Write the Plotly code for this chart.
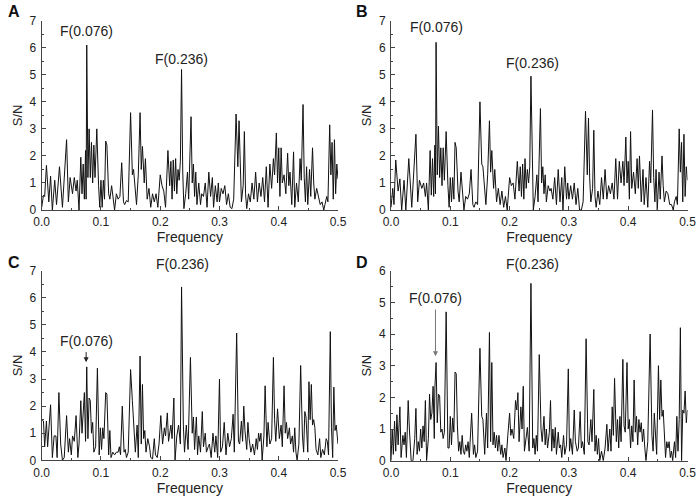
import plotly.graph_objects as go

# ---------------- data ----------------
freq_a = [0.000,0.003,0.005,0.008,0.012,0.015,0.018,0.022,0.025,0.030,0.035,0.042,0.045,0.048,0.052,0.055,0.058,0.060,0.063,0.066,
          0.068,0.070,0.072,0.074,0.075,0.076,0.078,0.080,0.082,0.084,0.086,0.088,0.090,0.093,0.096,0.098,0.100,0.102,0.104,0.106,
          0.108,0.110,0.113,0.115,0.118,0.121,0.123,0.126,0.129,0.132,0.135,0.138,0.140,0.143,0.146,0.150,0.153,0.155,0.158,0.160,
          0.163,0.166,0.168,0.170,0.173,0.175,0.178,0.181,0.184,0.187,0.190,0.193,0.196,0.200,0.203,0.206,0.209,0.213,0.216,0.218,
          0.220,0.222,0.224,0.226,0.228,0.230,0.232,0.234,0.236,0.238,0.240,0.243,0.246,0.248,0.252,0.254,0.256,0.258,0.260,0.262,
          0.265,0.268,0.270,0.273,0.276,0.279,0.282,0.285,0.288,0.290,0.293,0.296,0.298,0.300,0.303,0.306,0.309,0.312,0.315,0.318,
          0.321,0.324,0.328,0.331,0.333,0.335,0.337,0.340,0.342,0.344,0.346,0.349,0.352,0.355,0.358,0.361,0.364,0.367,0.370,0.373,
          0.376,0.379,0.382,0.385,0.388,0.391,0.393,0.396,0.398,0.400,0.402,0.404,0.406,0.409,0.412,0.415,0.417,0.419,0.422,0.425,
          0.427,0.430,0.433,0.436,0.438,0.441,0.443,0.445,0.447,0.449,0.452,0.454,0.457,0.459,0.461,0.464,0.467,0.470,0.473,0.476,
          0.478,0.481,0.483,0.486,0.488,0.490,0.492,0.494,0.496,0.498,0.500]
sn_a = [0.10,0.55,0.50,1.65,0.30,1.25,0.00,1.10,0.20,1.60,0.10,2.60,0.30,1.20,0.60,1.20,0.70,1.10,0.00,1.95,
        0.60,1.70,0.40,2.20,0.40,6.10,1.20,3.00,1.20,2.50,1.00,2.40,1.20,3.00,0.90,0.10,1.10,0.10,1.10,0.40,
        2.55,2.40,0.60,0.40,0.90,0.30,0.00,0.60,0.40,0.50,1.75,0.30,0.20,0.35,0.30,3.60,1.30,1.50,0.60,0.20,
        1.30,3.60,1.50,2.35,1.00,1.90,0.40,0.80,0.10,0.60,0.30,0.60,0.10,1.30,0.90,0.70,0.10,2.20,0.90,1.80,
        0.40,1.85,0.70,1.90,0.60,1.50,1.10,1.80,5.20,1.40,0.05,0.60,1.40,0.40,3.45,1.00,1.70,0.50,1.40,0.20,
        1.00,0.20,0.60,0.50,1.00,0.10,1.40,0.50,1.20,0.10,0.90,0.30,1.00,0.30,0.80,0.60,0.90,0.20,0.60,0.10,
        0.05,0.40,3.55,1.60,3.30,1.50,0.30,0.90,2.90,0.60,0.05,0.60,0.30,1.00,0.40,1.40,0.30,1.00,0.50,1.20,
        0.30,1.60,0.10,1.70,0.80,1.90,1.30,2.85,1.00,2.30,0.50,2.30,1.00,1.30,0.60,2.10,0.90,1.40,0.20,2.15,
        0.10,1.00,0.30,1.90,1.10,3.90,1.20,0.30,1.60,0.20,1.50,0.50,2.30,1.00,0.40,0.80,0.50,0.20,0.30,0.00,
        0.20,0.50,0.30,3.15,1.30,2.50,0.40,2.60,0.60,1.70,1.15]

freq_b = freq_a
sn_b = [0.10,0.80,0.20,1.85,0.70,1.15,0.00,1.10,0.00,1.90,0.10,2.80,0.30,1.10,0.80,1.00,0.50,1.00,0.00,2.20,
        0.55,1.90,0.50,2.40,0.60,6.20,1.30,3.10,1.20,2.30,0.90,2.30,1.10,2.90,0.90,0.10,1.20,0.30,1.20,0.40,
        2.50,2.30,0.70,0.30,1.40,0.40,0.00,0.50,0.40,0.60,1.50,0.20,0.10,0.30,0.20,4.00,1.70,1.60,0.70,0.20,
        1.30,3.30,1.40,2.20,0.80,1.50,0.30,0.80,0.20,0.70,0.10,0.50,0.00,1.20,0.90,1.00,0.40,1.80,0.70,1.60,
        0.50,1.70,0.40,1.90,0.80,1.50,1.00,1.60,4.95,1.50,0.00,0.50,1.30,0.30,3.75,1.00,1.60,0.60,1.30,0.30,
        0.90,0.70,0.80,0.40,1.20,0.20,1.50,0.30,1.20,0.00,1.60,0.40,1.00,0.40,0.90,0.40,1.00,0.20,0.80,0.00,
        0.00,0.30,3.65,1.30,3.40,1.20,0.30,0.80,2.95,0.50,0.10,0.70,0.20,1.20,0.40,1.50,0.40,0.90,0.60,1.00,
        0.40,1.90,0.40,1.80,1.00,1.80,0.90,2.70,1.00,1.80,0.40,2.90,0.80,1.40,0.60,1.90,0.80,2.00,0.30,1.50,
        0.20,1.20,0.10,1.80,1.00,3.70,1.20,0.30,1.50,0.00,1.40,0.40,2.00,0.90,0.30,0.70,0.60,0.20,0.20,0.00,
        0.30,0.50,0.20,3.00,1.40,2.50,0.30,2.80,0.50,1.60,1.10]

freq_c = [0.000,0.003,0.005,0.008,0.010,0.015,0.018,0.021,0.024,0.026,0.029,0.032,0.035,0.038,0.042,0.045,0.047,0.050,0.052,0.055,
          0.058,0.061,0.063,0.066,0.068,0.070,0.072,0.074,0.076,0.078,0.080,0.082,0.084,0.086,0.088,0.091,0.094,0.097,0.099,0.101,
          0.103,0.105,0.108,0.110,0.113,0.115,0.117,0.120,0.123,0.126,0.129,0.131,0.133,0.136,0.139,0.141,0.143,0.146,0.150,0.153,
          0.156,0.158,0.161,0.163,0.166,0.168,0.170,0.172,0.174,0.176,0.179,0.182,0.184,0.187,0.190,0.192,0.195,0.198,0.201,0.204,
          0.207,0.209,0.212,0.214,0.218,0.220,0.223,0.225,0.228,0.231,0.234,0.236,0.239,0.241,0.244,0.247,0.251,0.254,0.256,0.258,
          0.261,0.263,0.265,0.268,0.271,0.273,0.276,0.278,0.281,0.283,0.286,0.289,0.292,0.294,0.297,0.300,0.302,0.305,0.308,0.311,
          0.314,0.317,0.320,0.323,0.325,0.329,0.332,0.334,0.337,0.339,0.341,0.343,0.346,0.348,0.350,0.353,0.356,0.359,0.362,0.364,
          0.366,0.368,0.370,0.372,0.375,0.377,0.380,0.382,0.385,0.388,0.391,0.393,0.395,0.398,0.401,0.404,0.406,0.409,0.411,0.413,
          0.415,0.418,0.420,0.423,0.425,0.427,0.429,0.431,0.434,0.437,0.440,0.442,0.444,0.446,0.449,0.451,0.453,0.455,0.457,0.459,
          0.461,0.463,0.466,0.469,0.471,0.474,0.477,0.480,0.482,0.484,0.487,0.489,0.491,0.493,0.495,0.497,0.500]
sn_c = [1.50,1.45,0.50,1.45,0.50,2.05,0.10,0.90,0.90,0.10,2.50,0.60,0.00,0.10,1.65,0.30,0.80,0.20,0.90,0.70,
        1.65,0.10,0.60,2.20,1.00,1.80,2.50,0.70,3.45,0.80,2.30,2.20,1.00,1.40,0.30,0.50,3.40,0.20,1.20,0.40,
        1.20,0.80,2.50,2.45,0.20,1.10,0.10,0.30,0.20,0.30,0.30,0.50,0.20,2.00,0.30,0.40,0.10,0.30,3.35,2.20,
        1.20,0.30,1.30,0.10,3.85,0.60,2.80,0.80,1.10,0.30,0.80,0.50,0.10,0.05,0.80,0.20,0.10,0.60,1.65,0.60,
        1.20,0.90,1.75,0.70,1.30,0.80,2.30,0.00,0.90,1.30,0.60,6.40,1.30,0.30,1.30,0.40,3.80,1.00,1.60,0.40,
        1.60,0.20,0.90,0.30,1.80,0.50,1.00,0.30,0.50,0.60,0.10,1.00,0.30,0.90,0.10,3.00,0.30,0.50,1.40,0.20,
        1.00,0.50,0.80,1.70,0.30,4.70,0.70,0.60,1.45,0.70,2.00,1.10,0.40,1.40,0.80,0.30,0.60,0.20,0.80,0.40,
        1.00,0.70,1.00,0.00,0.90,2.75,0.50,1.40,0.60,0.80,3.80,1.50,0.70,1.90,0.80,1.30,0.50,2.75,1.00,1.40,
        0.80,1.20,0.60,0.90,0.30,1.20,0.30,0.00,0.60,3.50,0.90,0.30,1.80,1.60,0.30,2.90,1.50,2.80,1.30,1.50,
        1.20,0.40,0.20,0.80,0.10,0.40,0.20,0.80,0.70,0.20,4.75,1.20,0.10,2.70,1.10,1.30,0.60]

freq_d = [0.000,0.002,0.004,0.006,0.008,0.010,0.012,0.015,0.017,0.020,0.022,0.024,0.026,0.029,0.031,0.034,0.037,0.040,0.042,0.044,
          0.046,0.048,0.050,0.052,0.054,0.056,0.058,0.060,0.063,0.065,0.067,0.069,0.071,0.073,0.074,0.076,0.078,0.080,0.082,0.084,
          0.086,0.088,0.090,0.093,0.096,0.098,0.100,0.102,0.104,0.106,0.108,0.110,0.112,0.114,0.116,0.118,0.120,0.122,0.124,0.126,
          0.128,0.130,0.132,0.134,0.136,0.139,0.141,0.143,0.146,0.150,0.153,0.155,0.158,0.161,0.163,0.166,0.168,0.170,0.172,0.174,
          0.176,0.178,0.180,0.182,0.185,0.187,0.189,0.192,0.194,0.197,0.200,0.202,0.204,0.207,0.210,0.212,0.214,0.216,0.219,0.221,
          0.223,0.225,0.228,0.230,0.233,0.236,0.239,0.241,0.243,0.245,0.247,0.250,0.253,0.255,0.258,0.260,0.262,0.264,0.267,0.269,
          0.271,0.273,0.275,0.277,0.279,0.282,0.284,0.286,0.288,0.291,0.293,0.296,0.299,0.301,0.303,0.306,0.309,0.311,0.314,0.316,
          0.319,0.321,0.323,0.326,0.329,0.332,0.334,0.337,0.339,0.342,0.344,0.346,0.348,0.350,0.352,0.355,0.358,0.361,0.364,0.366,
          0.369,0.371,0.373,0.375,0.377,0.380,0.382,0.384,0.386,0.388,0.391,0.393,0.395,0.398,0.400,0.402,0.404,0.406,0.408,0.410,
          0.412,0.414,0.416,0.418,0.420,0.422,0.424,0.426,0.428,0.430,0.433,0.437,0.440,0.442,0.444,0.446,0.448,0.451,0.453,0.455,
          0.457,0.459,0.461,0.463,0.465,0.467,0.469,0.471,0.473,0.475,0.478,0.480,0.482,0.484,0.486,0.488,0.490,0.492,0.494,0.496,
          0.498,0.500]
sn_d = [0.00,1.00,0.20,1.25,0.30,1.45,0.50,1.70,0.10,0.80,0.50,0.90,0.10,1.90,1.00,0.00,0.00,0.70,1.65,0.20,
        0.60,0.30,1.00,0.40,1.10,0.60,1.90,0.00,0.70,2.10,1.30,1.50,2.35,0.70,2.30,3.10,1.20,2.10,2.05,0.90,
        1.00,0.70,0.90,4.70,0.40,0.40,1.40,0.50,1.35,0.90,2.80,2.75,1.10,0.30,0.60,0.20,0.80,0.30,0.20,0.50,
        0.30,0.60,0.10,0.70,1.50,0.20,0.50,0.10,0.30,3.55,1.40,1.30,0.20,1.50,0.40,4.05,0.60,3.10,0.50,0.90,
        0.40,0.80,0.30,0.80,0.20,0.50,0.10,0.40,0.00,0.80,1.50,0.80,1.00,0.70,1.90,1.60,2.15,0.60,1.70,1.00,
        2.35,0.30,0.70,1.05,0.30,5.60,0.40,0.70,0.20,0.80,0.30,3.35,1.00,0.60,1.40,0.50,1.00,0.40,0.90,1.90,
        0.30,1.00,0.40,1.05,0.20,0.90,0.40,0.50,0.10,0.80,0.20,0.50,2.90,0.30,0.70,0.20,1.60,0.60,0.30,0.40,
        1.55,0.40,0.60,0.20,3.85,0.60,0.50,1.30,0.60,2.25,0.30,0.80,0.20,0.70,0.00,0.30,0.00,0.40,1.15,0.30,
        1.00,0.30,1.70,0.80,2.60,0.60,1.30,0.40,1.40,0.60,3.20,1.10,0.90,3.10,1.00,1.30,0.40,1.10,0.60,2.55,
        0.90,1.40,0.50,1.30,0.90,1.20,0.60,1.00,0.40,0.00,0.60,4.00,0.80,0.30,1.50,0.90,0.20,3.00,1.30,2.55,
        1.40,1.60,0.80,0.10,0.60,0.40,0.60,0.10,0.30,0.00,0.60,0.10,1.40,0.30,1.30,4.20,0.00,1.60,1.50,2.20,
        1.20,1.60]

panel_letters = ["A", "B", "C", "D"]
x_ticks = [0.0, 0.1, 0.2, 0.3, 0.4, 0.5]
y_max = [7, 7, 7, 6]
label_076 = "F(0.076)"
label_236 = "F(0.236)"

# ---------------- figure ----------------
FONT = "Liberation Sans, Arial, sans-serif"
fig = go.Figure()

W, H = 698, 501
# plot-area pixel boxes (left, right, top, bottom)
boxes = [(41.7, 338.0, 20.7, 210.0),
         (391.0, 687.5, 20.7, 210.0),
         (41.7, 338.0, 270.7, 460.3),
         (391.0, 687.5, 270.7, 460.7)]
series = [(freq_a, sn_a), (freq_b, sn_b), (freq_c, sn_c), (freq_d, sn_d)]

layout = dict(width=W, height=H, margin=dict(l=0, r=0, t=0, b=0, autoexpand=False),
              plot_bgcolor="white", paper_bgcolor="white", showlegend=False,
              font=dict(family=FONT, color="#222", size=11))

for i, ((l, r, t, b), (fx, fy)) in enumerate(zip(boxes, series)):
    n = "" if i == 0 else str(i + 1)
    xa, ya = "xaxis" + n, "yaxis" + n
    fig.add_trace(go.Scatter(x=fx, y=fy, mode="lines",
                             line=dict(color="#111", width=1),
                             xaxis="x" + n, yaxis="y" + n, hoverinfo="skip"))
    layout[xa] = dict(domain=[l / W, r / W], anchor="y" + n, range=[0, 0.5],
                      tickvals=x_ticks, tickformat=".1f", ticks="inside", ticklen=4,
                      tickcolor="#444", showline=True, linecolor="#444", linewidth=1,
                      showgrid=False, zeroline=False, tickfont=dict(size=12),
                      automargin=False, ticklabelstandoff=1,
                      minor=dict(dtick=0.05, ticks="inside", ticklen=2, tickcolor="#444"),
                      title=dict(text="Frequency", font=dict(size=14), standoff=2))
    layout[ya] = dict(domain=[1 - b / H, 1 - t / H], anchor="x" + n, range=[0, y_max[i]],
                      dtick=1, ticks="inside", ticklen=4, tickcolor="#444",
                      showline=True, linecolor="#444", linewidth=1,
                      showgrid=False, zeroline=False, tickfont=dict(size=12),
                      automargin=False, ticklabelstandoff=2,
                      minor=dict(dtick=0.5, ticks="inside", ticklen=2, tickcolor="#444"),
                      title=dict(text="S/N", font=dict(size=13), standoff=4))

fig.update_layout(**layout)

ann = []
letter_pos = [(14, 12), (362, 12), (14, 262), (362, 262)]
for (px, py), letter in zip(letter_pos, panel_letters):
    ann.append(dict(x=px / W, y=1 - py / H, xref="paper", yref="paper", text="<b>%s</b>" % letter,
                    showarrow=False, font=dict(size=16, color="#111"), xanchor="center", yanchor="middle"))

def txt(xr, yr, x, y, s):
    return dict(x=x, y=y, xref=xr, yref=yr, text=s, showarrow=False,
                font=dict(size=14, color="#222"), xanchor="center", yanchor="middle")

ann += [txt("x", "y domain", 0.076, 6.62 / 7, label_076), txt("x", "y domain", 0.236, 5.6 / 7, label_236),
        txt("x2", "y2 domain", 0.076, 6.75 / 7, label_076), txt("x2", "y2 domain", 0.238, 5.45 / 7, label_236),
        txt("x3", "y3 domain", 0.238, 7.25 / 7, label_236), txt("x3", "y3 domain", 0.075, 4.41 / 7, label_076),
        txt("x4", "y4 domain", 0.238, 6.21 / 6, label_236), txt("x4", "y4 domain", 0.075, 5.15 / 6, label_076)]
# arrows
ann.append(dict(x=0.075, y=3.62, ax=0.075, ay=4.05, xref="x3", yref="y3", axref="x3", ayref="y3",
                text="", showarrow=True, arrowhead=2, arrowsize=1, arrowwidth=1, arrowcolor="#222"))
ann.append(dict(x=0.075, y=3.3, ax=0.075, ay=4.82, xref="x4", yref="y4", axref="x4", ayref="y4",
                text="", showarrow=True, arrowhead=2, arrowsize=1, arrowwidth=1, arrowcolor="#777"))
fig.update_layout(annotations=ann)

fig.write_html("out.html", config={"displayModeBar": False},
               post_script="document.body.style.margin='0';document.body.style.overflow='hidden';")
